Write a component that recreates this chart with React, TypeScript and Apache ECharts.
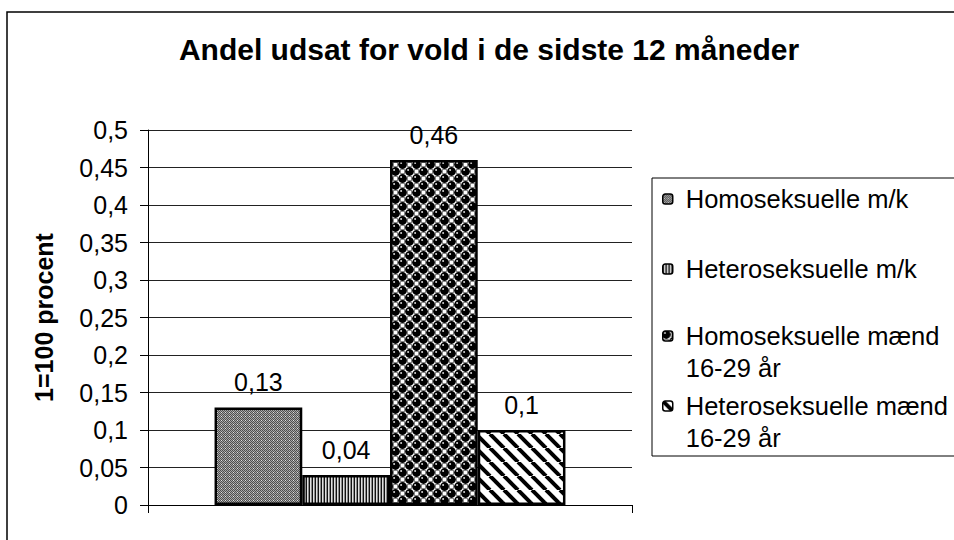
import React, { useEffect, useRef } from "react";
import * as echarts from "echarts";

const titleText = "Andel udsat for vold i de sidste 12 måneder";
const yAxisName = "1=100 procent";
const categories = [""];
const seriesNames = [
  "Homoseksuelle m/k",
  "Heteroseksuelle m/k",
  "Homoseksuelle mænd 16-29 år",
  "Heteroseksuelle mænd 16-29 år",
];
const legendLines = [
  ["Homoseksuelle m/k"],
  ["Heteroseksuelle m/k"],
  ["Homoseksuelle mænd", "16-29 år"],
  ["Heteroseksuelle mænd", "16-29 år"],
];
const values = [0.13, 0.04, 0.46, 0.1];
const patternKinds = ["checker", "vlines", "balls", "diag"];

function makePattern(kind: string): HTMLCanvasElement {
  const c = document.createElement("canvas");
  let ctx: CanvasRenderingContext2D;
  if (kind === "checker") {
    c.width = 4; c.height = 4;
    ctx = c.getContext("2d")!;
    for (let x = 0; x < 4; x++) for (let y = 0; y < 4; y++) {
      ctx.fillStyle = (x + y) % 2 === 0 ? "#4e4e4e" : "#a8a8a8";
      ctx.fillRect(x, y, 1, 1);
    }
    ctx.fillStyle = "#e0e0e0";
    ctx.fillRect(1, 0, 1, 1);
  } else if (kind === "vlines") {
    c.width = 3; c.height = 3;
    ctx = c.getContext("2d")!;
    const cols = ["#111111", "#e0e0e0", "#8a8a8a"];
    cols.forEach((col, i) => { ctx.fillStyle = col; ctx.fillRect(i, 0, 1, 3); });
  } else if (kind === "balls") {
    const s = 14;
    c.width = s; c.height = s;
    ctx = c.getContext("2d")!;
    ctx.fillStyle = "#ffffff"; ctx.fillRect(0, 0, s, s);
    ctx.strokeStyle = "#8a8a8a"; ctx.lineWidth = 1;
    ctx.strokeRect(8.5, 1.5, 4, 4);
    ctx.strokeRect(1.5, 8.5, 4, 4);
    const centers: number[][] = [];
    for (const dx of [-s, 0, s]) for (const dy of [-s, 0, s]) {
      centers.push([3.5 + dx, 3.5 + dy], [10.5 + dx, 10.5 + dy]);
    }
    centers.forEach(([x, y]) => {
      ctx.fillStyle = "#000000";
      ctx.beginPath(); ctx.arc(x, y, 4.4, 0, Math.PI * 2); ctx.fill();
    });
    centers.forEach(([x, y]) => {
      ctx.fillStyle = "#d8d8d8";
      ctx.beginPath(); ctx.arc(x - 1.4, y - 1.4, 1, 0, Math.PI * 2); ctx.fill();
    });
  } else {
    c.width = 14; c.height = 14;
    ctx = c.getContext("2d")!;
    ctx.fillStyle = "#ffffff"; ctx.fillRect(0, 0, 14, 14);
    ctx.strokeStyle = "#000000"; ctx.lineWidth = 4;
    for (const x0 of [-14, 0, 14]) {
      ctx.beginPath(); ctx.moveTo(x0, 0); ctx.lineTo(x0 + 14, 14); ctx.stroke();
    }
  }
  return c;
}

const fmt = (v: number) => String(+Number(v).toFixed(2)).replace(".", ",");

export default function App() {
  const ref = useRef<HTMLDivElement>(null);
  useEffect(() => {
    if (!ref.current) return;
    const chart = echarts.init(ref.current, null, { renderer: "svg" });
    const font = "'Liberation Sans', Arial, sans-serif";
    const lh = 32;
    const fs = 25.5;
    const iconCenters = [199, 269, 336, 406];
    const legends = seriesNames.map((name, i) => {
      const lines = legendLines[i];
      const multi = lines.length > 1;
      return {
        orient: "vertical",
        left: 662,
        top: multi ? iconCenters[i] - 1.5 * lh : iconCenters[i] - lh / 2,
        padding: 0,
        itemWidth: 10,
        itemHeight: 10,
        data: [name],
        formatter: () =>
          multi ? "{sp| }\n" + lines.map((l) => "{a|" + l + "}").join("\n") : lines[0],
        itemStyle: { borderColor: "#000", borderWidth: 1.5 },
        textStyle: {
          fontFamily: font,
          fontSize: fs,
          color: "#000",
          lineHeight: lh,
          padding: [0, 0, 0, 8],
          rich: {
            sp: { fontFamily: font, fontSize: fs, lineHeight: lh, color: "#000" },
            a: { fontFamily: font, fontSize: fs, lineHeight: lh, color: "#000" },
          },
        },
        selectedMode: false,
      };
    });
    chart.setOption({
      animation: false,
      backgroundColor: "#ffffff",
      title: {
        text: titleText,
        left: 484,
        textAlign: "center",
        top: 29,
        textStyle: { fontFamily: font, fontSize: 30, fontWeight: "bold", color: "#000" },
      },
      legend: legends,
      grid: { left: 148, right: 322, top: 130, bottom: 35, containLabel: false },
      xAxis: {
        type: "category",
        data: categories,
        axisLine: { lineStyle: { color: "#000", width: 1 } },
        axisTick: { show: true, length: 8, lineStyle: { color: "#000" } },
        axisLabel: { show: false },
      },
      yAxis: {
        type: "value",
        min: 0,
        max: 0.5,
        interval: 0.05,
        name: yAxisName,
        nameLocation: "middle",
        nameGap: 92,
        nameTextStyle: { fontFamily: font, fontSize: 25, fontWeight: "bold", color: "#000" },
        axisLine: { show: true, lineStyle: { color: "#000", width: 1 } },
        axisTick: { show: true, length: 8, lineStyle: { color: "#000" } },
        axisLabel: {
          margin: 20,
          fontFamily: font,
          fontSize: 25,
          color: "#000",
          formatter: (v: number) => fmt(v),
        },
        splitLine: { show: true, lineStyle: { color: "#222", width: 1 } },
      },
      series: seriesNames.map((name, i) => ({
        type: "bar",
        name,
        data: [values[i]],
        barGap: "0%",
        barCategoryGap: "27.5%",
        itemStyle: {
          color: { image: makePattern(patternKinds[i]), repeat: "repeat" },
          borderColor: "#000",
          borderWidth: 2.5,
        },
        label: {
          show: true,
          position: "top",
          distance: 13,
          fontFamily: font,
          fontSize: 25,
          color: "#000",
          formatter: (p: any) => fmt(p.value),
        },
      })),
      graphic: [
        {
          type: "rect",
          shape: { x: 7, y: 12, width: 1000, height: 600 },
          style: { fill: "none", stroke: "#000", lineWidth: 1.5 },
          silent: true,
        },
        {
          type: "rect",
          shape: { x: 652, y: 178, width: 400, height: 278 },
          style: { fill: "none", stroke: "#000", lineWidth: 1 },
          silent: true,
        },
      ],
    });
    return () => chart.dispose();
  }, []);
  return (
    <div
      ref={ref}
      style={{ position: "absolute", left: 0, top: 0, width: 954, height: 540, background: "#fff" }}
    />
  );
}
